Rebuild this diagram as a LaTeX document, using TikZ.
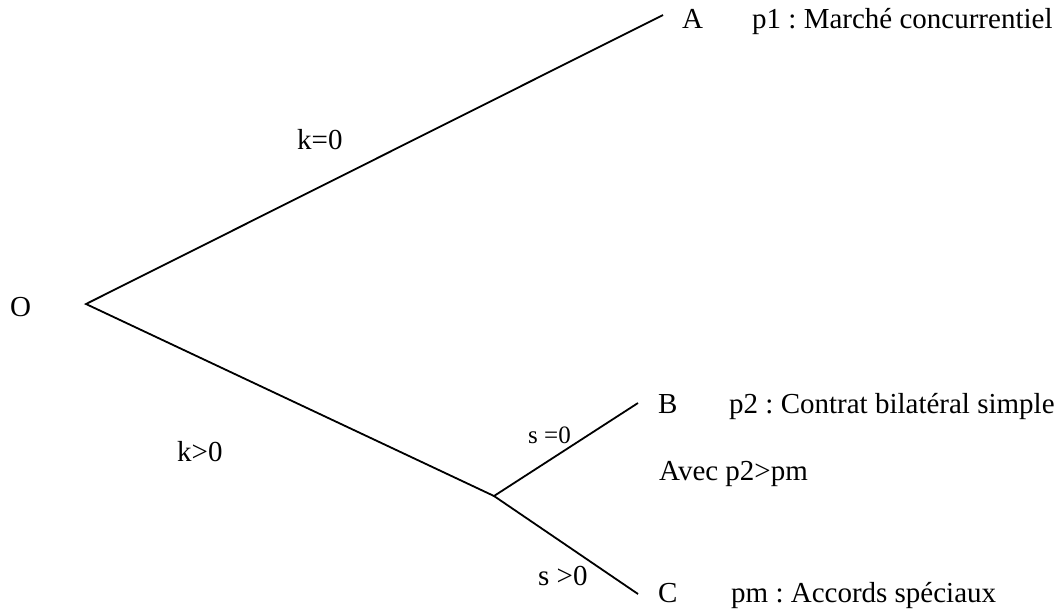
\documentclass[tikz,border=0pt]{standalone}
\usepackage{fontspec}
\setmainfont{Liberation Serif}
\usetikzlibrary{positioning}
\frenchspacing

\begin{document}
\begin{tikzpicture}[x=1pt,y=-1pt,font=\fontsize{29}{34}\selectfont,
   lbl/.style={anchor=base west,inner sep=0pt},
   sm/.style={lbl,font=\fontsize{25}{30}\selectfont},
   branch/.style={line width=1.8pt}]
  \useasboundingbox (0,0) rectangle (1062,611);
  % end points of the branches
  \coordinate (o) at (86,304);
  \coordinate (a) at (663,15);
  \coordinate (j) at (494,496);
  \coordinate (b) at (638,403);
  \coordinate (c) at (638,594);
  % letters and outcomes
  \node[lbl] (O) at (10,316) {O};
  \node[lbl] (A) at (682,28) {A};
  \node[lbl] (pA) at (752,28) {p1 : Marché concurrentiel};
  \node[lbl] (B) at (658,413) {B};
  \node[lbl] (pB) at (729,413) {p2 : Contrat bilatéral simple};
  \node[lbl] (avec) at (659,480) {Avec p2>pm};
  \node[lbl] (C) at (658,602) {C};
  \node[lbl] (pC) at (731,602) {pm : Accords spéciaux};
  % conditions on the branches
  \node[lbl] (k0) at (297,149) {k=0};
  \node[lbl] (kp) at (177,461) {k>0};
  \node[sm] (s0) at (528,443) {s =0};
  \node[lbl] (sp) at (538,585) {s >0};
  \draw[branch] (a)--(o)--(j);
  \draw[branch] (b)--(j)--(c);
\end{tikzpicture}
\end{document}
